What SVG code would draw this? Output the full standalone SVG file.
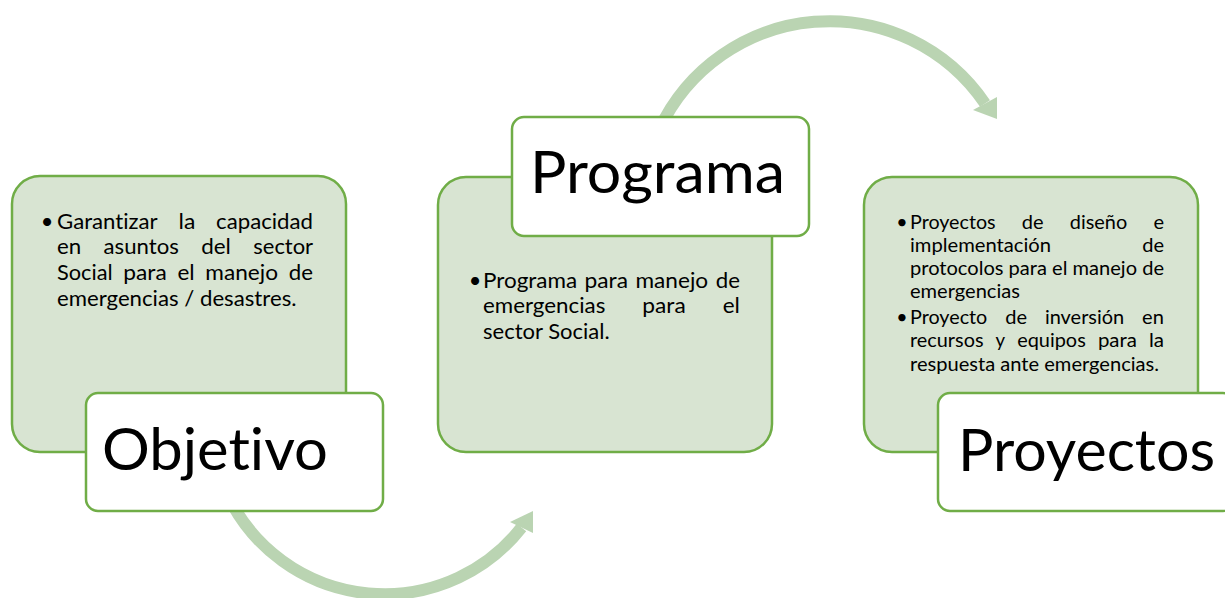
<svg xmlns="http://www.w3.org/2000/svg" width="1225" height="598" viewBox="0 0 1225 598">
  <style>
    .bg { fill: #d8e4d2; stroke: #70ad47; stroke-width: 2.5; }
    .lbl { fill: #ffffff; stroke: #70ad47; stroke-width: 2.5; }
    .t { font-family: Lato, "Liberation Sans", sans-serif; fill: #000000; font-variant-ligatures: none; font-feature-settings: "liga" 0, "clig" 0; }
    .b1 { font-size: 21.8px; }
    .b3 { font-size: 19.6px; }
    .big { font-size: 59px; }
    .arc { fill: none; stroke: #bad4b2; stroke-width: 12; }
    .head { fill: #bad4b2; }
  </style>
  <rect width="1225" height="598" fill="#ffffff"/>
  <g id="connectors">
    <path class="arc" d="M 230 500 A 174 174 0 0 0 521.5 527.5"/>
    <polygon class="head" points="510,522 533,511 533,533"/>
    <path class="arc" d="M 659 130 A 188 188 0 0 1 985 103.5"/>
    <polygon class="head" points="973,110 997,97 997,119"/>
  </g>
  <g id="objetivo">
    <rect class="bg" x="12" y="176" width="334" height="276" rx="28"/>
    <g class="t b1">
      <text x="47" y="228.5" text-anchor="middle">•</text>
      <text x="57" y="228.5" textLength="100.7" lengthAdjust="spacingAndGlyphs">Garantizar</text>
      <text x="178.5" y="228.5" textLength="16.8" lengthAdjust="spacingAndGlyphs">la</text>
      <text x="216.1" y="228.5" textLength="96.9" lengthAdjust="spacingAndGlyphs">capacidad</text>
      <text x="57" y="254.3" textLength="24.2" lengthAdjust="spacingAndGlyphs">en</text>
      <text x="103.6" y="254.3" textLength="75.2" lengthAdjust="spacingAndGlyphs">asuntos</text>
      <text x="201.2" y="254.3" textLength="29.7" lengthAdjust="spacingAndGlyphs">del</text>
      <text x="253.3" y="254.3" textLength="59.8" lengthAdjust="spacingAndGlyphs">sector</text>
      <text x="57" y="280.1" textLength="55.6" lengthAdjust="spacingAndGlyphs">Social</text>
      <text x="123.3" y="280.1" textLength="43.4" lengthAdjust="spacingAndGlyphs">para</text>
      <text x="177.4" y="280.1" textLength="17.2" lengthAdjust="spacingAndGlyphs">el</text>
      <text x="205.3" y="280.1" textLength="72.7" lengthAdjust="spacingAndGlyphs">manejo</text>
      <text x="288.7" y="280.1" textLength="24.2" lengthAdjust="spacingAndGlyphs">de</text>
      <text x="57" y="305.9" textLength="239.5" lengthAdjust="spacingAndGlyphs">emergencias / desastres.</text>
    </g>
    <rect class="lbl" x="86" y="393" width="297" height="118" rx="12"/>
    <text class="t big" x="102" y="470" textLength="226" lengthAdjust="spacingAndGlyphs">Objetivo</text>
  </g>
  <g id="programa">
    <rect class="bg" x="438" y="177" width="334" height="275" rx="28"/>
    <g class="t b1">
      <text x="475" y="287.5" text-anchor="middle">•</text>
      <text x="483" y="287.5" textLength="94.1" lengthAdjust="spacingAndGlyphs">Programa</text>
      <text x="584.6" y="287.5" textLength="43.4" lengthAdjust="spacingAndGlyphs">para</text>
      <text x="635.5" y="287.5" textLength="72.7" lengthAdjust="spacingAndGlyphs">manejo</text>
      <text x="715.7" y="287.5" textLength="24.2" lengthAdjust="spacingAndGlyphs">de</text>
      <text x="483" y="313.3" textLength="122.3" lengthAdjust="spacingAndGlyphs">emergencias</text>
      <text x="642.3" y="313.3" textLength="43.4" lengthAdjust="spacingAndGlyphs">para</text>
      <text x="722.7" y="313.3" textLength="17.2" lengthAdjust="spacingAndGlyphs">el</text>
      <text x="483" y="339.1" textLength="126.7" lengthAdjust="spacingAndGlyphs">sector Social.</text>
    </g>
    <rect class="lbl" x="512" y="117" width="297" height="119" rx="12"/>
    <text class="t big" x="530" y="193" textLength="255" lengthAdjust="spacingAndGlyphs">Programa</text>
  </g>
  <g id="proyectos">
    <rect class="bg" x="864" y="177" width="334" height="275" rx="28"/>
    <g class="t b3">
      <text x="902" y="228.5" text-anchor="middle">•</text>
      <text x="910" y="228.5" textLength="85.6" lengthAdjust="spacingAndGlyphs">Proyectos</text>
      <text x="1021.8" y="228.5" textLength="21.8" lengthAdjust="spacingAndGlyphs">de</text>
      <text x="1069.8" y="228.5" textLength="57.4" lengthAdjust="spacingAndGlyphs">diseño</text>
      <text x="1153.4" y="228.5" textLength="10.6" lengthAdjust="spacingAndGlyphs">e</text>
      <text x="910" y="251.8" textLength="141" lengthAdjust="spacingAndGlyphs">implementación</text>
      <text x="1142.2" y="251.8" textLength="21.8" lengthAdjust="spacingAndGlyphs">de</text>
      <text x="910" y="275.1" textLength="254" lengthAdjust="spacingAndGlyphs">protocolos para el manejo de</text>
      <text x="910" y="298.4" textLength="109.9" lengthAdjust="spacingAndGlyphs">emergencias</text>
      <text x="902" y="324" text-anchor="middle">•</text>
      <text x="910" y="324" textLength="77.3" lengthAdjust="spacingAndGlyphs">Proyecto</text>
      <text x="1005.2" y="324" textLength="21.8" lengthAdjust="spacingAndGlyphs">de</text>
      <text x="1044.9" y="324" textLength="79.3" lengthAdjust="spacingAndGlyphs">inversión</text>
      <text x="1142.1" y="324" textLength="21.8" lengthAdjust="spacingAndGlyphs">en</text>
      <text x="910" y="347.3" textLength="73.5" lengthAdjust="spacingAndGlyphs">recursos</text>
      <text x="995.6" y="347.3" textLength="9.6" lengthAdjust="spacingAndGlyphs">y</text>
      <text x="1017.2" y="347.3" textLength="68.6" lengthAdjust="spacingAndGlyphs">equipos</text>
      <text x="1097.9" y="347.3" textLength="39" lengthAdjust="spacingAndGlyphs">para</text>
      <text x="1148.9" y="347.3" textLength="15.1" lengthAdjust="spacingAndGlyphs">la</text>
      <text x="910" y="370.6" textLength="249" lengthAdjust="spacingAndGlyphs">respuesta ante emergencias.</text>
    </g>
    <rect class="lbl" x="938" y="393" width="297" height="118" rx="12"/>
    <text class="t big" x="958" y="471" textLength="257" lengthAdjust="spacingAndGlyphs">Proyectos</text>
  </g>
</svg>
